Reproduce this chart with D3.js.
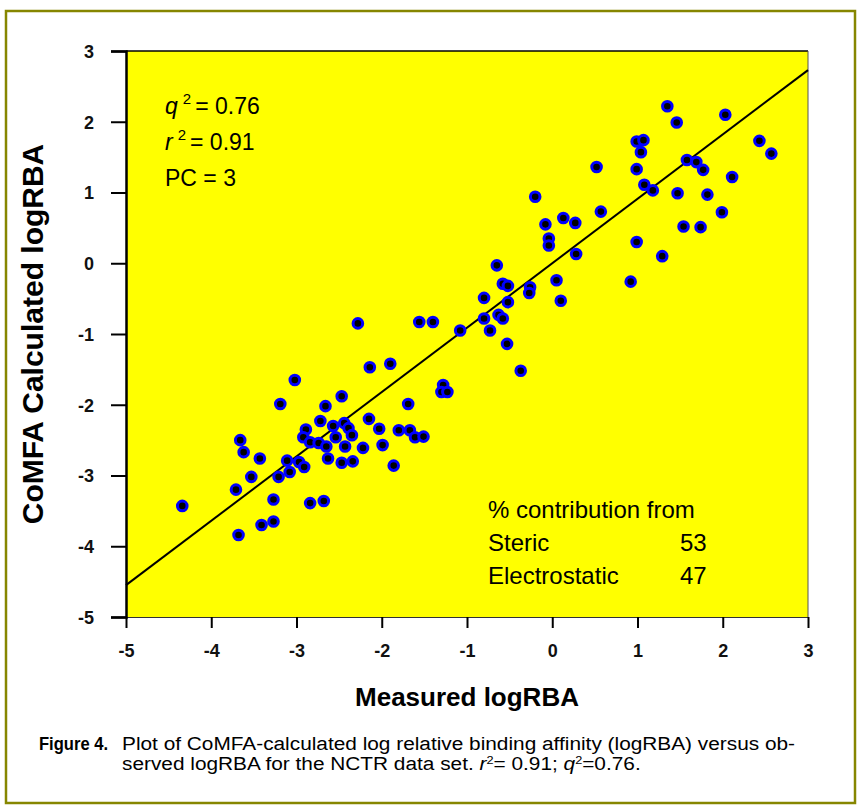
<!DOCTYPE html>
<html>
<head>
<meta charset="utf-8">
<script src="https://cdn.jsdelivr.net/npm/d3@7"></script>
<style>
  body { margin: 0; background: #fff; }
  svg { display: block; font-family: "Liberation Sans", Arial, sans-serif; }
</style>
</head>
<body>
<div id="chart"></div>
<script>
// measured logRBA (x) and CoMFA calculated logRBA (y)
const measured = [
  -3.02, -3.19, -2.47, -2.66, -2.72, -2.89, -2.92, -2.57, -2.44, -2.39,
  -2.35, -2.54, -2.84, -2.74, -2.65, -2.43, -2.22, -3.66, -3.62, -3.43,
  -3.11, -2.97, -2.91, -3.08, -3.21, -3.53, -2.63, -2.47, -2.34, -3.71,
  -3.27, -2.84, -2.68, -4.34, -3.41, -3.27, -3.68,
  -0.65, -0.58, -0.52, -0.26, -0.27, 0.05, 0.10, -0.80, -0.52, -0.80,
  -0.63, -0.58, -0.73, -1.08, -0.53, -0.37, -1.56, -1.40, -2.28, -2.14,
  -1.90, -1.28, -1.30, -1.23, -1.69, -2.15, -2.03, -1.80, -1.67, -1.61,
  -1.51, -1.99, -1.86,
  1.35, 1.46, 2.03, 0.99, 1.07, 1.04, 2.43, 2.57, 0.52, 0.99,
  1.58, 1.69, 1.77, 2.11, 1.08, 1.18, 1.47, 1.82, 0.57, 1.99,
  0.13, 0.27, 1.54, 1.74, 0.99, 0.28, 1.29, 0.92,
  -0.20, -0.08, -0.04, -0.04
];
const calculated = [
  -1.65, -1.99, -1.88, -2.02, -2.23, -2.35, -2.46, -2.30, -2.26, -2.33,
  -2.43, -2.46, -2.53, -2.54, -2.59, -2.59, -2.61, -2.50, -2.67, -2.76,
  -2.79, -2.81, -2.88, -2.95, -3.02, -3.02, -2.76, -2.82, -2.80, -3.20,
  -3.34, -3.39, -3.36, -3.43, -3.70, -3.65, -3.84,
  -0.03, -0.29, -0.32, -0.34, -0.42, -0.24, -0.53, -0.49, -0.55, -0.78,
  -0.73, -0.78, -0.95, -0.95, -1.14, -1.52, -0.83, -0.83, -0.85, -1.47,
  -1.42, -1.72, -1.82, -1.82, -1.99, -2.20, -2.34, -2.36, -2.36, -2.46,
  -2.45, -2.57, -2.86,
  2.22, 1.99, 2.10, 1.72, 1.74, 1.57, 1.73, 1.55, 1.36, 1.33,
  1.46, 1.43, 1.32, 1.22, 1.11, 1.03, 0.99, 0.97, 0.73, 0.72,
  0.64, 0.57, 0.52, 0.51, 0.30, 0.13, 0.10, -0.26,
  0.94, 0.55, 0.35, 0.25
];
const fitX = [-5, 3];
const fitY = [-4.55, 2.73];
const tickValues = [-5, -4, -3, -2, -1, 0, 1, 2, 3];
const statLines = [
  { sym: "q", sup: "2", rest: "= 0.76" },
  { sym: "r", sup: "2", rest: "= 0.91" },
  { sym: "", sup: "", rest: "PC = 3" }
];
const contribution = [
  ["Steric", "53"],
  ["Electrostatic", "47"]
];

const W = 860, H = 806;
const svg = d3.select("#chart").append("svg").attr("width", W).attr("height", H);

// outer frame
svg.append("rect")
  .attr("x", 6).attr("y", 11).attr("width", 849).attr("height", 792)
  .attr("fill", "none").attr("stroke", "#868600").attr("stroke-width", 2.5);

const x = d3.scaleLinear().domain([-5, 3]).range([126, 808]);
const y = d3.scaleLinear().domain([-5, 3]).range([617, 51]);

// plot background
svg.append("rect")
  .attr("x", x(-5)).attr("y", y(3))
  .attr("width", x(3) - x(-5)).attr("height", y(-5) - y(3))
  .attr("fill", "#ffff00");

// top + right frame lines
svg.append("line")
  .attr("x1", x(-5)).attr("x2", x(3)).attr("y1", y(3)).attr("y2", y(3))
  .attr("stroke", "#000").attr("stroke-width", 1.5);
svg.append("line")
  .attr("x1", x(3)).attr("x2", x(3)).attr("y1", y(3)).attr("y2", y(-5))
  .attr("stroke", "#555").attr("stroke-width", 1);

// axes
const xAxis = svg.append("g")
  .attr("transform", `translate(0,${y(-5)})`)
  .call(d3.axisBottom(x).tickValues(tickValues).tickSize(11).tickPadding(16));
const yAxis = svg.append("g")
  .attr("transform", `translate(${x(-5)},0)`)
  .call(d3.axisLeft(y).tickValues(tickValues).tickSize(15).tickPadding(17));

xAxis.select(".domain").attr("stroke", "#333").attr("stroke-width", 1);
yAxis.select(".domain").attr("stroke", "#000").attr("stroke-width", 2.5);
[xAxis, yAxis].forEach((g) => {
  g.selectAll(".tick line").attr("stroke", "#000").attr("stroke-width", 2);
  g.selectAll(".tick text")
    .attr("fill", "#111")
    .attr("font-size", "18px")
    .attr("font-weight", "bold")
    .attr("font-family", "Liberation Sans, Arial, sans-serif")
    .text((d) => (d < 0 ? "-" + Math.abs(d) : d));
});
yAxis.selectAll(".tick text").attr("dy", "0.36em");

// regression line
svg.append("line")
  .attr("x1", x(fitX[0])).attr("y1", y(fitY[0]))
  .attr("x2", x(fitX[1])).attr("y2", y(fitY[1]))
  .attr("stroke", "#000").attr("stroke-width", 2);

// points
const pts = d3.zip(measured, calculated);
svg.append("g").selectAll("circle")
  .data(pts).enter().append("circle")
  .attr("cx", (d) => x(d[0])).attr("cy", (d) => y(d[1]))
  .attr("r", 4.8)
  .attr("fill", "#000")
  .attr("stroke", "#0000ff").attr("stroke-width", 3);

// stats text
const stats = svg.append("g").attr("font-size", "23px").attr("fill", "#000");
statLines.forEach((s, i) => {
  const t = stats.append("text").attr("x", 165).attr("y", 114 + i * 36);
  if (s.sym) {
    t.append("tspan").attr("font-style", "italic").text(s.sym);
    t.append("tspan").attr("font-size", "15px").attr("dy", -10).attr("dx", 5).text(s.sup);
    t.append("tspan").attr("dy", 10).attr("dx", 4).text(s.rest);
  } else {
    t.text(s.rest);
  }
});

// contribution block
const contrib = svg.append("g").attr("font-size", "24px").attr("fill", "#000");
contrib.append("text").attr("x", 488).attr("y", 518).text("% contribution from");
contribution.forEach((c, i) => {
  contrib.append("text").attr("x", 488).attr("y", 551 + i * 33).text(c[0]);
  contrib.append("text").attr("x", 680).attr("y", 551 + i * 33).text(c[1]);
});

// axis titles
svg.append("text")
  .attr("transform", `translate(43,${(y(3) + y(-5)) / 2}) rotate(-90)`)
  .attr("text-anchor", "middle")
  .attr("font-size", "30px").attr("font-weight", "bold")
  .text("CoMFA Calculated logRBA");
svg.append("text")
  .attr("x", 467).attr("y", 706)
  .attr("text-anchor", "middle")
  .attr("font-size", "26px").attr("font-weight", "bold")
  .text("Measured logRBA");

// caption - the printed caption is set a little wide, so stretch it to the same span
const cap = svg.append("g").attr("font-size", "18px").attr("fill", "#000");
cap.append("text").attr("x", 39).attr("y", 750).attr("font-weight", "bold")
  .attr("textLength", 69).attr("lengthAdjust", "spacingAndGlyphs")
  .text("Figure 4.");
const l1 = cap.append("text").attr("x", 122).attr("y", 750)
  .text("Plot of CoMFA-calculated log relative binding affinity (logRBA) versus ob-");
const stretch = 673 / l1.node().getComputedTextLength();
l1.attr("textLength", 673).attr("lengthAdjust", "spacingAndGlyphs");
const l2 = cap.append("text").attr("x", 122).attr("y", 770);
l2.append("tspan").text("served logRBA for the NCTR data set. ");
l2.append("tspan").attr("font-style", "italic").text("r");
l2.append("tspan").attr("font-size", "11px").attr("dy", -6).text("2");
l2.append("tspan").attr("dy", 6).text("= 0.91; ");
l2.append("tspan").attr("font-style", "italic").text("q");
l2.append("tspan").attr("font-size", "11px").attr("dy", -6).text("2");
l2.append("tspan").attr("dy", 6).text("=0.76.");
l2.attr("textLength", l2.node().getComputedTextLength() * stretch)
  .attr("lengthAdjust", "spacingAndGlyphs");
</script>
</body>
</html>
